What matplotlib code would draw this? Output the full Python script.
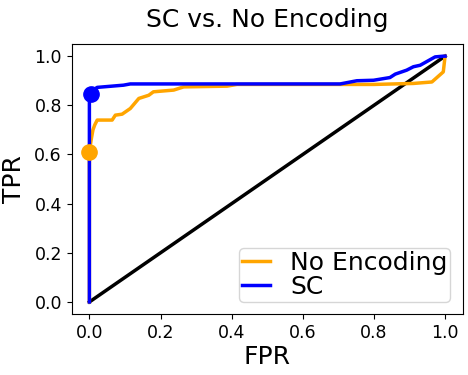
import matplotlib
matplotlib.use('Agg')
import matplotlib.pyplot as plt

# ROC curves
fpr_none = [0.0, 0.0, 0.005, 0.01, 0.015, 0.022, 0.064, 0.073, 0.092, 0.115, 0.139,
            0.167, 0.18, 0.237, 0.265, 0.387, 0.415, 0.5, 0.7, 0.8, 0.911, 0.963,
            0.977, 0.995, 1.0]
tpr_none = [0.0, 0.61, 0.66, 0.70, 0.72, 0.74, 0.74, 0.76, 0.764, 0.787, 0.828,
            0.841, 0.855, 0.862, 0.875, 0.878, 0.885, 0.885, 0.885, 0.885, 0.889, 0.895,
            0.913, 0.936, 1.0]

fpr_sc = [0.0, 0.0, 0.008, 0.022, 0.096, 0.115, 0.705, 0.752, 0.799, 0.845, 0.86,
          0.892, 0.911, 0.93, 0.972, 0.995, 1.0]
tpr_sc = [0.0, 0.845, 0.86, 0.873, 0.882, 0.887, 0.887, 0.9, 0.902, 0.913, 0.927,
          0.943, 0.957, 0.963, 0.997, 1.0, 1.0]

# operating points
pt_none = (0.0, 0.61)
pt_sc = (0.005, 0.845)

fig = plt.figure(figsize=(4.68, 3.75), dpi=100)
ax = fig.add_axes([0.153, 0.162, 0.836, 0.721])

ax.plot([0, 1], [0, 1], color='black', linewidth=2.5)
ax.plot(fpr_none, tpr_none, color='orange', linewidth=2.5, label='No Encoding')
ax.plot(fpr_sc, tpr_sc, color='blue', linewidth=2.5, label='SC')
ax.plot(*pt_none, 'o', color='orange', markersize=11)
ax.plot(*pt_sc, 'o', color='blue', markersize=11)

ax.set_xticks([0.0, 0.2, 0.4, 0.6, 0.8, 1.0])
ax.set_yticks([0.0, 0.2, 0.4, 0.6, 0.8, 1.0])
ax.tick_params(labelsize=12.5)
ax.set_xlabel('FPR', fontsize=18, labelpad=2)
ax.set_ylabel('TPR', fontsize=18, labelpad=6)
ax.set_title('SC vs. No Encoding', fontsize=18, pad=12)
ax.legend(loc='lower right', fontsize=18, labelspacing=0.0, borderpad=0.12,
          handlelength=1.1, handletextpad=0.8)

plt.savefig('out.png', dpi=100)
